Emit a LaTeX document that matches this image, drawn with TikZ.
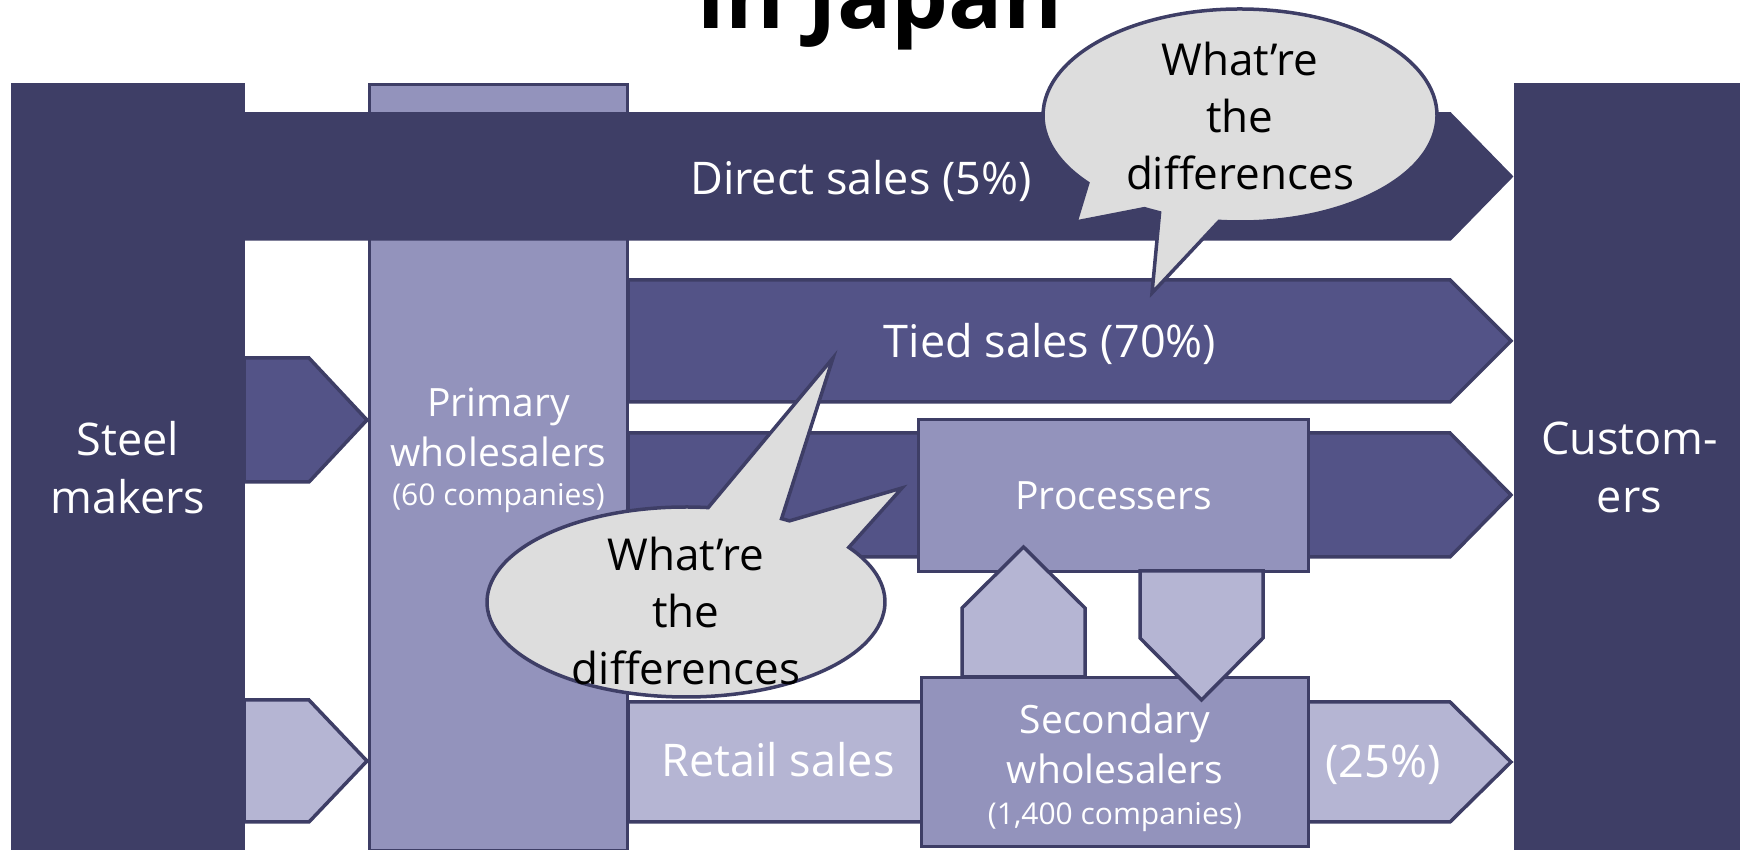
\documentclass[tikz,border=0pt]{standalone}
\usepackage{fontspec}
\setmainfont{Open Sans}
\usetikzlibrary{calc}

\definecolor{navy}{RGB}{62,62,102}
\definecolor{midblue}{RGB}{83,83,135}
\definecolor{boxblue}{RGB}{147,147,188}
\definecolor{paleblue}{RGB}{181,181,211}
\definecolor{bubblegray}{RGB}{221,221,221}

\newcommand\bigfont{\fontsize{45bp}{58bp}\selectfont}
\newcommand\midfont{\fontsize{39bp}{50bp}\selectfont}
\newcommand\smallfont{\fontsize{30bp}{36bp}\selectfont}
\newcommand\bubblefont{\fontsize{44bp}{57bp}\selectfont}

\tikzset{
  outline/.style={draw=navy, line width=3.5bp, line join=miter},
  darkfill/.style={outline, fill=navy},
  midfill/.style={outline, fill=midblue},
  boxfill/.style={outline, fill=boxblue},
  palefill/.style={outline, fill=paleblue},
  panel/.style={rectangle, inner sep=0pt, outer sep=0pt},
  lbl/.style={text=white, inner sep=0pt, outer sep=0pt, align=center},
  bubble/.style={outline, fill=bubblegray, line join=miter},
  bubbletext/.style={text=black, inner sep=0pt, align=center, font=\bubblefont},
}

\begin{document}
\begin{tikzpicture}[x=1bp, y=1bp]
\useasboundingbox (0,0) rectangle (1740,850);
\clip (0,0) rectangle (1740,850);

% title (its upper part runs off the top edge)
\node[anchor=base, inner sep=0pt, font=\fontsize{90bp}{90bp}\selectfont\bfseries] (title) at (880,821) {in Japan};

% end columns
\node[panel, darkfill, minimum width=232, minimum height=769, lbl, font=\bigfont] (steel) at (128,382.5) {Steel\\makers};
\node[panel, darkfill, minimum width=229, minimum height=769, lbl, font=\bigfont] (cust) at (1629.5,382.5) {Custom-\\ers};

% primary wholesalers column
\node[panel, boxfill, minimum width=259, minimum height=769] (primary) at (498.5,382.5) {};

% flow bands
\path[darkfill] (244,736) -- (1450,736) -- (1511,673.5) -- (1450,611) -- (244,611) -- cycle;
\path[midfill] (628,570) -- (1450,570) -- (1511,509) -- (1450,448) -- (628,448) -- cycle;
\path[midfill] (628,417) -- (1450,417) -- (1511,355) -- (1450,293) -- (628,293) -- cycle;
\path[palefill] (628,148) -- (1450,148) -- (1511,88) -- (1450,28) -- (628,28) -- cycle;

% feeds from the steel makers into the primary wholesalers
\path[midfill] (244,492) -- (309,492) -- (367,430) -- (309,368) -- (244,368) -- cycle;
\path[palefill] (244,150) -- (309,150) -- (367,89) -- (309,28) -- (244,28) -- cycle;

% processers and secondary wholesalers
\node[panel, boxfill, minimum width=391, minimum height=153] (proc) at (1113.5,354.5) {};
\node[panel, boxfill, minimum width=388, minimum height=170] (second) at (1115,88) {};

% exchange between processers and secondary wholesalers
\path[palefill] (962,173) -- (962,242) -- (1023.5,303) -- (1085,242) -- (1085,173) -- cycle;
\path[palefill] (1140,279) -- (1140,212) -- (1201.5,150) -- (1263,212) -- (1263,279) -- cycle;

% labels
\node[lbl, anchor=base, font=\bigfont] (directlbl) at (861,655) {Direct sales (5\%)};
\node[lbl, anchor=base, font=\bigfont] (tiedlbl) at (1050,492) {Tied sales (70\%)};
\node[lbl, anchor=base, font=\midfont] (proclbl) at (1113.5,340) {Processers};
\node[lbl, anchor=base, font=\bigfont] (retaillbl) at (778,73) {Retail sales};
\node[lbl, anchor=base, font=\bigfont] (sharelbl) at (1383,72) {(25\%)};
\node[lbl, font=\midfont] (primarylbl) at (498.5,423) {Primary\\wholesalers};
\node[lbl, anchor=base, font=\smallfont] (primarycount) at (498.5,344) {(60 companies)};
\node[lbl, font=\midfont] (secondlbl) at (1115,106) {Secondary\\wholesalers};
\node[lbl, anchor=base, font=\smallfont] (secondcount) at (1115,25) {(1,400 companies)};

% speech bubble over the direct and tied sales
\coordinate (c1) at (1240,734.5);
\path[bubble] ($(c1)+(263.9:197 and 106.5)$)
  arc[start angle=263.9, end angle=579.4, x radius=197, y radius=106.5]
  -- (1076,628)
  -- ($(c1)+(241:197 and 106.5)$)
  arc[start angle=241, end angle=245.9, x radius=197, y radius=106.5]
  -- (1152,557) -- cycle;
\node[bubbletext] (q1) at (1240,733.5) {What’re\\the\\differences};

% speech bubble over the tied sales and processers
\coordinate (c2) at (686,248);
\path[bubble] ($(c2)+(83.6:199 and 95)$)
  arc[start angle=83.6, end angle=395.1, x radius=199, y radius=95]
  -- (902,362)
  -- ($(c2)+(58.66:199 and 95)$)
  arc[start angle=58.66, end angle=61.3, x radius=199, y radius=95]
  -- (833,492) -- cycle;
\node[bubbletext] (q2) at (686,239) {What’re\\the\\differences};
\end{tikzpicture}
\end{document}
